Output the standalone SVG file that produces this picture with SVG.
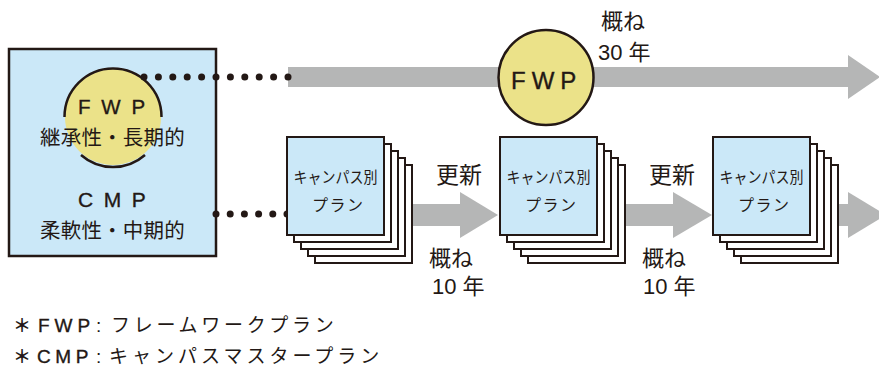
<svg xmlns="http://www.w3.org/2000/svg" width="879" height="367" viewBox="0 0 879 367">
<style>
.ln{stroke:#231815;fill:none}
.box{fill:#cbe8f8;stroke:#231815;stroke-width:2.5}
.card{fill:#cbe8f8;stroke:#231815;stroke-width:2}
.back{fill:#ffffff;stroke:#231815;stroke-width:2}
.gray{fill:#b5b6b6}
.yel{fill:#ebe289}
.dot{fill:#231815}
text{fill:#231815;font-family:"Liberation Sans","Noto Sans CJK JP",sans-serif}
.jp{font-family:"Noto Sans CJK JP","Liberation Sans",sans-serif}
.lat{stroke:#231815;stroke-width:0.35}
</style>
<defs>
<g id="stack">
<rect class="back" x="28" y="28" width="97" height="98"/>
<rect class="back" x="21" y="21" width="97" height="98"/>
<rect class="back" x="14" y="14" width="97" height="98"/>
<rect class="back" x="7" y="7" width="97" height="98"/>
<rect class="card" x="0" y="0" width="97" height="98"/>
<text class="jp" x="48.5" y="46" font-size="16" text-anchor="middle" textLength="84" lengthAdjust="spacingAndGlyphs">キャンパス別</text>
<text class="jp" x="25" y="74" font-size="16" letter-spacing="1.5">プラン</text>
</g>
<circle id="dt" r="3.5" class="dot"/>
</defs>

<g id="cmp">
<rect class="box" x="9" y="49" width="207" height="207"/>
<text class="lat" x="78" y="207" font-size="21" letter-spacing="10.5">CMP</text>
<text class="jp" x="40" y="238" font-size="20.5" letter-spacing="0.2">柔軟性・中期的</text>
</g>

<g id="fwp-inner">
<circle class="yel" cx="113" cy="117" r="48"/>
<path class="ln" stroke-width="2.5" d="M64.5 117 A48.5 48.5 0 0 1 161.5 117 M145 155 A48.5 48.5 0 0 1 81 155"/>
<text class="lat" x="78" y="114" font-size="20.5" letter-spacing="10.8">FWP</text>
<text class="jp" x="40" y="145" font-size="20.5" letter-spacing="0.2">継承性・長期的</text>
</g>

<g id="connectors">
<rect class="gray" x="288" y="67" width="562" height="20"/>
<polygon class="gray" points="848,55 880,77 848,99"/>
<rect class="gray" x="412" y="204" width="50" height="22"/>
<polygon class="gray" points="460,192 498,215 460,238"/>
<rect class="gray" x="625" y="204" width="50" height="22"/>
<polygon class="gray" points="673,192 712,215 673,238"/>
<rect class="gray" x="837" y="204" width="13" height="22"/>
<polygon class="gray" points="848,192 886,215 848,238"/>
<g id="dots-top">
<use href="#dt" x="144" y="77"/><use href="#dt" x="158.4" y="77"/><use href="#dt" x="172.8" y="77"/><use href="#dt" x="187.2" y="77"/><use href="#dt" x="201.6" y="77"/><use href="#dt" x="216" y="77"/><use href="#dt" x="230.4" y="77"/><use href="#dt" x="244.8" y="77"/><use href="#dt" x="259.2" y="77"/><use href="#dt" x="273.6" y="77"/><use href="#dt" x="288" y="77"/>
</g>
<g id="dots-bottom">
<use href="#dt" x="216" y="214"/><use href="#dt" x="230.2" y="214"/><use href="#dt" x="244.4" y="214"/><use href="#dt" x="258.6" y="214"/><use href="#dt" x="272.8" y="214"/><use href="#dt" x="287" y="214"/>
</g>
</g>

<g id="fwp-top">
<circle class="yel" cx="546" cy="77.5" r="47.5" stroke="#231815" stroke-width="2.5"/>
<text class="lat" x="511" y="89" font-size="24" letter-spacing="6">FWP</text>
</g>

<g id="stack1"><use href="#stack" x="287" y="137"/></g>
<g id="stack2"><use href="#stack" x="500" y="137"/></g>
<g id="stack3"><use href="#stack" x="713" y="137"/></g>

<g id="labels">
<text class="jp" x="601" y="29" font-size="22">概ね</text>
<text x="598" y="60" font-size="22">30 <tspan class="jp">年</tspan></text>
<text class="jp" x="436" y="183" font-size="23">更新</text>
<text class="jp" x="429" y="266" font-size="22">概ね</text>
<text x="432" y="294" font-size="22">10 <tspan class="jp">年</tspan></text>
<text class="jp" x="649" y="183" font-size="23">更新</text>
<text class="jp" x="642" y="266" font-size="22">概ね</text>
<text x="643" y="294" font-size="22">10 <tspan class="jp">年</tspan></text>
</g>

<g id="notes">
<text font-size="19" y="332"><tspan class="jp" x="13" font-weight="bold" font-size="18">＊</tspan><tspan class="lat" x="38" letter-spacing="5">FWP</tspan><tspan x="96">:</tspan><tspan class="jp" x="111" letter-spacing="3.7">フレームワークプラン</tspan></text>
<text font-size="19" y="363"><tspan class="jp" x="13" font-weight="bold" font-size="18">＊</tspan><tspan class="lat" x="37" letter-spacing="4.6">CMP</tspan><tspan x="96">:</tspan><tspan class="jp" x="109" letter-spacing="4">キャンパスマスタープラン</tspan></text>
</g>
</svg>
